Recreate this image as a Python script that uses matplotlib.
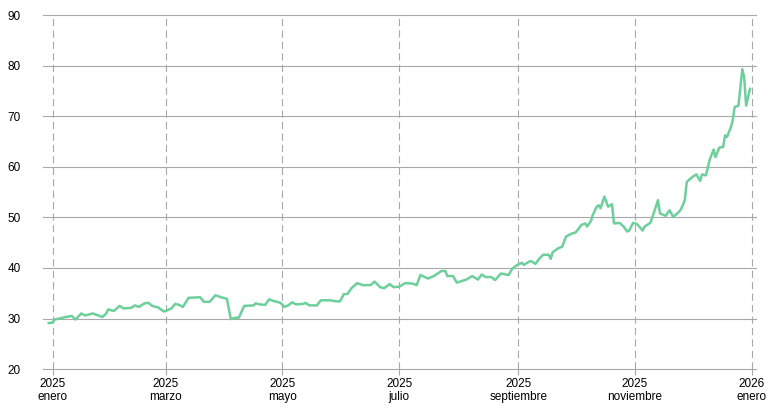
import numpy as np
import matplotlib
matplotlib.use("Agg")
import matplotlib.pyplot as plt

plt.rcParams["font.family"] = ["Liberation Sans", "DejaVu Sans"]

# days since 2025-01-01 and the value on that day
start = np.datetime64("2025-01-01")
days = [-2, 0, 1, 7, 10, 12, 15, 17, 21, 26, 28, 29, 32, 35, 37, 41, 43, 45, 48, 50,
        52, 55, 58, 59, 62, 64, 66, 68, 71, 77, 79, 82, 85, 88, 91, 93, 96, 97, 100, 105,
        106, 108, 111, 113, 115, 119, 121, 123, 125, 127, 131, 132, 134, 138, 140, 145, 148, 150, 152, 154,
        156, 159, 162, 166, 168, 171, 173, 176, 178, 181, 184, 188, 190, 192, 196, 199, 203, 205, 206, 209,
        211, 216, 219, 222, 224, 226, 229, 231, 234, 238, 240, 243, 245, 246, 249, 250, 252, 254, 256, 259,
        260, 261, 264, 266, 268, 271, 273, 274, 276, 278, 279, 281, 282, 284, 285, 286, 288, 290, 292, 293,
        296, 298, 300, 301, 303, 305, 308, 309, 312, 314, 316, 317, 320, 322, 324, 327, 328, 330, 331, 334,
        336, 338, 339, 341, 343, 345, 346, 348, 350, 351, 352, 354, 355, 356, 358, 360, 361, 362, 364]
values = [29.1, 29.2, 29.8, 30.3, 30.5, 29.8, 31.0, 30.6, 31.0, 30.3, 31.0, 31.8, 31.5, 32.5, 32.0, 32.1, 32.6, 32.3, 33.0, 33.1,
          32.5, 32.2, 31.4, 31.5, 32.0, 32.9, 32.7, 32.3, 34.1, 34.2, 33.3, 33.3, 34.6, 34.2, 33.9, 29.9, 30.2, 30.0, 32.5, 32.6,
          33.0, 32.8, 32.7, 33.8, 33.5, 33.1, 32.3, 32.6, 33.2, 32.8, 32.9, 33.1, 32.6, 32.6, 33.6, 33.6, 33.4, 33.4, 34.8, 34.9,
          36.0, 37.0, 36.6, 36.6, 37.3, 36.2, 36.0, 36.8, 36.2, 36.3, 37.0, 36.9, 36.6, 38.6, 37.9, 38.4, 39.4, 39.4, 38.4, 38.4,
          37.1, 37.7, 38.4, 37.7, 38.7, 38.2, 38.2, 37.6, 38.9, 38.6, 39.9, 40.7, 41.0, 40.6, 41.3, 41.3, 40.8, 41.8, 42.6, 42.6,
          41.8, 43.1, 43.9, 44.2, 46.2, 46.8, 47.0, 47.5, 48.5, 48.8, 48.2, 49.3, 50.5, 52.1, 52.4, 51.8, 54.1, 52.1, 52.6, 48.8,
          48.9, 48.2, 47.2, 47.4, 48.9, 48.7, 47.4, 48.2, 48.9, 51.1, 53.4, 50.8, 50.3, 51.4, 50.1, 51.1, 51.6, 53.4, 57.0, 58.0,
          58.5, 57.2, 58.5, 58.3, 61.4, 63.4, 61.9, 63.8, 63.9, 66.2, 65.9, 67.8, 69.2, 71.8, 72.1, 79.3, 77.6, 72.1, 75.4]

y_ticks = [20, 30, 40, 50, 60, 70, 80, 90]
tick_dates = ["2025-01-01", "2025-03-01", "2025-05-01", "2025-07-01",
              "2025-09-01", "2025-11-01", "2026-01-01"]
tick_labels = ["2025\nenero", "2025\nmarzo", "2025\nmayo", "2025\njulio",
               "2025\nseptiembre", "2025\nnoviembre", "2026\nenero"]

dates = start + np.array(days).astype("timedelta64[D]")

fig = plt.figure(figsize=(7.68, 4.18), dpi=100)
ax = fig.add_axes([0.056, 0.117, 0.928, 0.847])

# horizontal gridlines drawn by hand so the ones at the edges are not clipped
for yv in y_ticks:
    ax.axhline(yv, color="#a8a8a8", lw=0.8, clip_on=False, zorder=0)

ax.plot(dates, values, color="#6dcf9b", lw=1.8, solid_joinstyle="round", zorder=3)

ax.set_ylim(20, 90)
ax.set_yticks(y_ticks)
ax.set_xlim(start - np.timedelta64(5, "D"), start + np.timedelta64(367, "D"))
ax.set_xticks(np.array(tick_dates, dtype="datetime64[D]"))
ax.set_xticklabels(tick_labels)

ax.grid(axis="x", color="#a8a8a8", lw=0.8, ls=(0, (6.5, 3.8)))
ax.set_axisbelow(True)
for s in ax.spines.values():
    s.set_visible(False)
ax.tick_params(axis="y", length=0, labelsize=8.5, colors="#000000", pad=16)
ax.tick_params(axis="x", length=4.5, width=0.8, color="#a8a8a8",
               labelsize=8.5, labelcolor="#000000", pad=2)
for lbl in ax.get_xticklabels():
    lbl.set_linespacing(1.1)

fig.savefig("out.png", dpi=100)
